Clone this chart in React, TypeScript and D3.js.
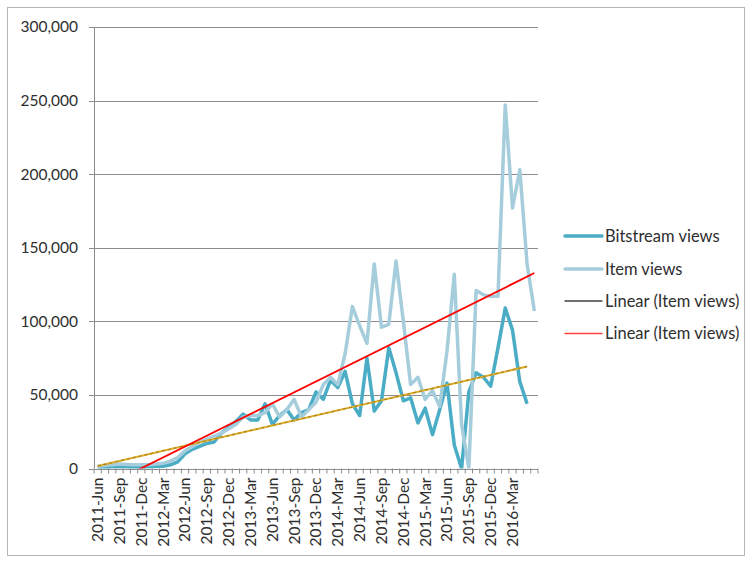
import React from "react";
import * as d3 from "d3";

// Monthly categories, 2011-Jun .. 2016-Jun
const monthNames = ["Jan", "Feb", "Mar", "Apr", "May", "Jun", "Jul", "Aug", "Sep", "Oct", "Nov", "Dec"];
const categories: string[] = [];
for (let k = 0; k < 61; k++) {
  const m = (5 + k) % 12;
  const y = 2011 + Math.floor((5 + k) / 12);
  categories.push(`${y}-${monthNames[m]}`);
}

const bitstreamViews = [
  500, 800, 1000, 1200, 1000, 900, 1000, 1100, 1300, 1500,
  2500, 4500, 10000, 13000, 15000, 17000, 18000, 24000, 28000, 32000,
  37000, 33000, 33000, 44000, 30000, 36000, 40000, 33000, 38000, 40000,
  52000, 47000, 60000, 55000, 66000, 44000, 36000, 75000, 39000, 46000,
  82000, 65000, 46000, 48000, 31000, 41000, 23000, 40000, 58000, 16000,
  0, 52000, 65000, 62000, 56000, 82000, 109000, 94000, 59000, 44000,
];

const itemViews = [
  1500, 2000, 2500, 3000, 2800, 2500, 2500, 2500, 3000, 3500,
  5000, 7500, 12000, 15000, 18000, 20000, 22000, 24000, 27000, 30000,
  35000, 36000, 36000, 38000, 44000, 35000, 40000, 47000, 35000, 40000,
  45000, 57000, 62000, 57000, 78000, 110000, 97000, 85000, 139000, 96000,
  98000, 141000, 100000, 57000, 62000, 47000, 53000, 42000, 80000, 132000,
  30000, 0, 121000, 118000, 117000, 117000, 247000, 177000, 203000, 139000,
  107000,
];

const yTicks = [0, 50000, 100000, 150000, 200000, 250000, 300000];
const legendLabels = ["Bitstream views", "Item views", "Linear (Item views)", "Linear (Item views)"];

const DARK = "#4aacc5";
const LIGHT = "#a6cddb";
const FONT = "Lato, 'Open Sans', sans-serif";
const TEXT = "#2e2e2e";
const AXIS = "#8c8c8c";

// Least-squares fit of value against category index
function linearFit(vals: number[]) {
  const n = vals.length;
  const xs = d3.range(n);
  const mx = d3.mean(xs)!;
  const my = d3.mean(vals)!;
  let num = 0;
  let den = 0;
  for (let i = 0; i < n; i++) {
    num += (xs[i] - mx) * (vals[i] - my);
    den += (xs[i] - mx) ** 2;
  }
  const slope = num / den;
  return { slope, intercept: my - slope * mx, n };
}

export default function App() {
  const W = 753;
  const H = 561;
  const left = 94;
  const right = 538;
  const top = 27;
  const bottom = 468.5;

  const x = d3.scaleBand<number>().domain(d3.range(categories.length)).range([left, right]).padding(0);
  const bw = x.bandwidth();
  const cx = (i: number) => x(i)! + bw / 2;
  const y = d3.scaleLinear().domain([0, 300000]).range([bottom, top]);

  const line = d3
    .line<number>()
    .x((_, i) => cx(i))
    .y((d) => y(d));

  const fitItem = linearFit(itemViews);
  const fitBit = linearFit(bitstreamViews);
  const trendItem = [0, fitItem.n - 1].map((i) => [cx(i), y(fitItem.intercept + fitItem.slope * i)]);
  const trendBit = [0, fitBit.n - 1].map((i) => [cx(i), y(fitBit.intercept + fitBit.slope * i)]);

  const boundaries = d3.range(categories.length + 1).map((i) => left + i * bw);

  const legendX1 = 565;
  const legendX2 = 602;
  const legendY = [236, 269, 301, 333.5];

  return (
    <svg
      width={W}
      height={H}
      style={{ position: "absolute", left: 0, top: 0, background: "#fff" }}
      fontFamily={FONT}
    >
      <defs>
        <clipPath id="plot-clip">
          <rect x={left} y={top} width={right - left} height={bottom - top} />
        </clipPath>
      </defs>
      <rect x={7.5} y={7.5} width={737} height={548} fill="#fff" stroke="#b5b5b5" strokeWidth={1} />

      {/* gridlines and y axis labels */}
      {yTicks.map((t) => (
        <g key={t}>
          <line x1={left - 5} x2={right} y1={Math.round(y(t)) + 0.5} y2={Math.round(y(t)) + 0.5} stroke={AXIS} strokeWidth={1} />
          <text x={78} y={y(t)} dy="0.35em" textAnchor="end" fontSize={15.5} fill={TEXT}>
            {d3.format(",")(t)}
          </text>
        </g>
      ))}
      <line x1={left + 0.5} x2={left + 0.5} y1={top} y2={bottom} stroke={AXIS} strokeWidth={1} />

      {/* category ticks */}
      {boundaries.map((bx, i) => (
        <line key={i} x1={bx} x2={bx} y1={bottom} y2={bottom + 5} stroke={AXIS} strokeWidth={1} />
      ))}
      {categories.map((c, i) =>
        i % 3 === 0 && i < 60 ? (
          <text
            key={c}
            transform={`translate(${cx(i)},${bottom + 9}) rotate(-90)`}
            dy="0.35em"
            textAnchor="end"
            fontSize={15.5}
            fill={TEXT}
          >
            {c}
          </text>
        ) : null
      )}

      {/* series */}
      <g clipPath="url(#plot-clip)">
        <path d={line(bitstreamViews)!} fill="none" stroke={DARK} strokeWidth={3.5} strokeLinejoin="round" />
        <path d={line(itemViews)!} fill="none" stroke={LIGHT} strokeWidth={3.5} strokeLinejoin="round" />
        <path d={d3.line()(trendBit as [number, number][])!} fill="none" stroke="#dcae2e" strokeWidth={2} />
        <path
          d={d3.line()(trendBit as [number, number][])!}
          fill="none"
          stroke="#b08414"
          strokeWidth={1.2}
          strokeDasharray="3,3"
        />
        <path d={d3.line()(trendItem as [number, number][])!} fill="none" stroke="#ff0000" strokeWidth={1.8} />
      </g>

      {/* legend */}
      {legendLabels.map((lab, k) => {
        const stroke = k === 0 ? DARK : k === 1 ? LIGHT : k === 2 ? "#404040" : "#ff4040";
        const sw = k < 2 ? 3.5 : 1.3;
        return (
          <g key={k}>
            <line x1={legendX1} x2={legendX2} y1={legendY[k]} y2={legendY[k]} stroke={stroke} strokeWidth={sw} strokeLinecap="round" />
            <text x={605} y={legendY[k]} dy="0.35em" fontSize={16.5} fill={TEXT}>
              {lab}
            </text>
          </g>
        );
      })}
    </svg>
  );
}
